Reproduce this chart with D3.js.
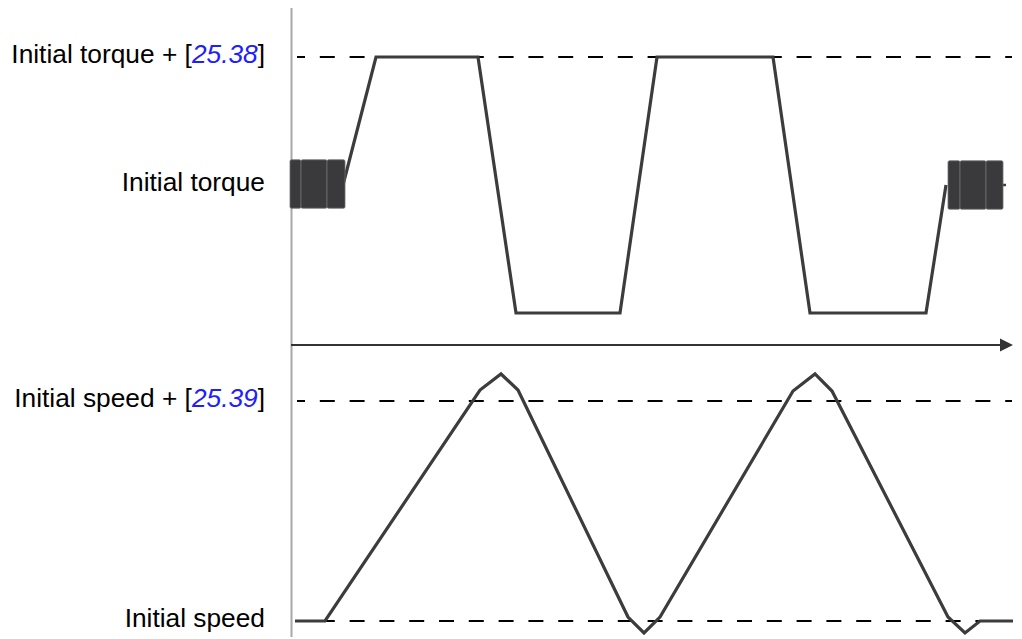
<!DOCTYPE html>
<html>
<head>
<meta charset="utf-8">
<script src="https://cdn.jsdelivr.net/npm/d3@7/dist/d3.min.js"></script>
<style>
  html, body { margin: 0; padding: 0; background: #fff; }
  svg { display: block; font-family: "Liberation Sans", Arial, sans-serif; }
</style>
</head>
<body>
<svg id="chart" width="1022" height="639"></svg>
<script>
// ---- data ----
const torqueParam = "25.38";
const speedParam = "25.39";

// torque (relative to initial torque) vs time
const torqueTime  = [5.2, 8.5, 18.7, 22.5, 32.9, 36.6, 48.2, 51.9, 63.5, 65.5];
const torqueValue = [0, 25.38, 25.38, -25.38, -25.38, 25.38, 25.38, -25.38, -25.38, 0];
const torqueTailTime = [70.9, 71.5];
const torqueTailValue = [0, 0];

// dense oscillation bands around initial torque
const oscStart = [-0.1, 1.0, 3.6, 65.7, 66.9, 69.5];
const oscEnd   = [1.0, 3.6, 5.4, 66.9, 69.5, 71.2];
const oscMin   = [-4.6, -4.6, -4.6, -4.8, -4.8, -4.8];
const oscMax   = [5.0, 5.0, 5.0, 4.8, 4.8, 4.8];

// speed (relative to initial speed) vs time
const speedTime  = [0.4, 3.4, 18.9, 21.0, 22.7, 33.7, 35.3, 36.9, 50.2, 52.4, 54.1, 65.7, 67.4, 68.9, 72.2];
const speedValue = [0, 0, 26.66, 28.51, 26.66, 0.46, -1.38, 0.46, 26.54, 28.51, 26.54, 0.46, -1.38, 0, 0];

// reference levels (dashed)
const torqueLevels = [25.38];
const speedLevels = [25.39, 0];

// tick values for labels
const torqueTicks = [25.38, 0];
const speedTicks = [25.39, 0];

// ---- layout ----
const svg = d3.select("#chart");
const x = d3.scaleLinear().domain([0, 72]).range([291, 1011]);
const yT = d3.scaleLinear().domain([-25.38, 25.38]).range([313, 57]);
const yS = d3.scaleLinear().domain([0, 25.39]).range([621, 401]);
const lineColor = "#3c3c3e";

// dashed reference lines
function dashed(levels, scale) {
  svg.append("g").selectAll("line").data(levels).join("line")
    .attr("x1", 297).attr("x2", 1012)
    .attr("y1", d => scale(d)).attr("y2", d => scale(d))
    .attr("stroke", "#000").attr("stroke-width", 2.2)
    .attr("stroke-dasharray", "15,14.8").attr("stroke-dashoffset", 7);
}
dashed(torqueLevels, yT);
dashed(speedLevels, yS);

// vertical axis line
svg.append("line").attr("x1", 291.5).attr("x2", 291.5).attr("y1", 8).attr("y2", 637)
  .attr("stroke", "#a8a8a8").attr("stroke-width", 2);

// horizontal time axis with arrow
const xAxis = d3.axisBottom(x).tickValues([]).tickSize(0).tickSizeOuter(0);
const gx = svg.append("g").attr("transform", "translate(0,345)").call(xAxis);
gx.select(".domain").attr("d", `M${x(0)},0H${x(70.9)}`).attr("stroke", "#333").attr("stroke-width", 2);
gx.append("path").attr("d", `M${x(70.9)},-6.5L${x(72.2)},0L${x(70.9)},6.5Z`).attr("fill", "#333");

// left axis labels
function labelAxis(scale, levels) {
  const ax = d3.axisLeft(scale).tickValues(levels).tickSize(0).tickPadding(0).tickFormat(() => "");
  const g = svg.append("g").attr("transform", "translate(265,0)").call(ax);
  g.select(".domain").remove();
  g.selectAll(".tick text")
    .attr("font-size", 26.3).attr("fill", "#000")
    .attr("font-family", "'Liberation Sans', Arial, sans-serif")
    .attr("text-anchor", "end").attr("dy", "0.22em").attr("x", 0)
    .text(null);
  return g;
}
function fillLabels(g, base, param) {
  g.selectAll(".tick text").each(function(d) {
    const t = d3.select(this);
    if (d === 0) { t.append("tspan").text(base); }
    else {
      t.append("tspan").text(base + " + [");
      t.append("tspan").text(param).attr("fill", "#2020ff").attr("font-style", "italic");
      t.append("tspan").text("]");
    }
  });
}
fillLabels(labelAxis(yT, torqueTicks), "Initial torque", torqueParam);
fillLabels(labelAxis(yS, speedTicks), "Initial speed", speedParam);

// torque line
const lineT = d3.line().x(d => x(d[0])).y(d => yT(d[1]));
svg.append("path").datum(torqueTime.map((t, i) => [t, torqueValue[i]]))
  .attr("d", lineT).attr("fill", "none").attr("stroke", lineColor).attr("stroke-width", 3.2);
svg.append("path").datum(torqueTailTime.map((t, i) => [t, torqueTailValue[i]]))
  .attr("d", lineT).attr("fill", "none").attr("stroke", lineColor).attr("stroke-width", 2.5);

// oscillation bands
svg.append("g").selectAll("rect").data(oscStart.map((s, i) => ({s, e: oscEnd[i], lo: oscMin[i], hi: oscMax[i]})))
  .join("rect")
  .attr("x", d => x(d.s)).attr("width", d => x(d.e) - x(d.s))
  .attr("y", d => yT(d.hi)).attr("height", d => yT(d.lo) - yT(d.hi))
  .attr("rx", 1.5)
  .attr("fill", "#3a3a3c").attr("stroke", "#6e6e70").attr("stroke-width", 0.8);

// speed line
const lineS = d3.line().x(d => x(d[0])).y(d => yS(d[1]));
svg.append("path").datum(speedTime.map((t, i) => [t, speedValue[i]]))
  .attr("d", lineS).attr("fill", "none").attr("stroke", lineColor).attr("stroke-width", 3.2);
</script>
</body>
</html>
